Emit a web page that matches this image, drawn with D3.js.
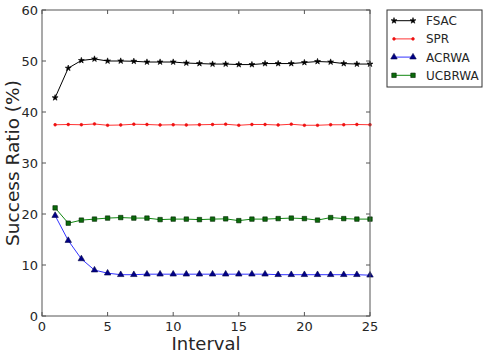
<!DOCTYPE html>
<html><head><meta charset="utf-8">
<script src="https://cdn.jsdelivr.net/npm/d3@7"></script>
<style>body{margin:0;background:#fff}svg{display:block}</style>
</head><body><svg id="c" width="490" height="357"></svg>
<script>
const intervals = d3.range(1, 26);
const fsac   = [42.8,48.6,50.1,50.4,50.0,50.0,49.95,49.8,49.8,49.8,49.6,49.5,49.4,49.4,49.3,49.3,49.5,49.5,49.5,49.7,49.9,49.8,49.5,49.4,49.4];
const spr    = [37.5,37.55,37.5,37.65,37.4,37.45,37.6,37.55,37.45,37.5,37.45,37.5,37.55,37.6,37.4,37.55,37.55,37.45,37.6,37.4,37.4,37.5,37.5,37.55,37.5];
const acrwa  = [19.7,14.8,11.2,9.0,8.4,8.1,8.1,8.2,8.2,8.2,8.2,8.2,8.2,8.2,8.2,8.2,8.2,8.1,8.1,8.1,8.1,8.1,8.1,8.1,8.0];
const ucbrwa = [21.2,18.2,18.8,19.0,19.2,19.3,19.2,19.2,18.9,19.0,19.0,18.9,19.0,19.05,18.7,19.0,19.0,19.1,19.2,19.1,18.8,19.3,19.1,19.0,19.0];
const xTicks = [0,5,10,15,20,25];
const yTicks = [0,10,20,30,40,50,60];
const seriesNames = ["FSAC","SPR","ACRWA","UCBRWA"];

const svg = d3.select("#c");
const L=42, T=10, R=370, B=316;
const x = d3.scaleLinear().domain([0,25]).range([L,R]);
const y = d3.scaleLinear().domain([0,60]).range([B,T]);
const font = "DejaVu Sans, sans-serif";
const txt = "#262626", frame="#555";

const g = svg.append("g");
xTicks.forEach(t=>{
  g.append("line").attr("x1",x(t)).attr("x2",x(t)).attr("y1",B).attr("y2",B-4).attr("stroke",frame);
  g.append("line").attr("x1",x(t)).attr("x2",x(t)).attr("y1",T).attr("y2",T+4).attr("stroke",frame);
  g.append("text").attr("x",x(t)).attr("y",B+15).attr("text-anchor","middle")
    .attr("font-family",font).attr("font-size",13).attr("fill",txt).text(t);
});
yTicks.forEach(t=>{
  g.append("line").attr("x1",L).attr("x2",L+4).attr("y1",y(t)).attr("y2",y(t)).attr("stroke",frame);
  g.append("line").attr("x1",R).attr("x2",R-4).attr("y1",y(t)).attr("y2",y(t)).attr("stroke",frame);
  g.append("text").attr("x",L-4).attr("y",y(t)+4.5).attr("text-anchor","end")
    .attr("font-family",font).attr("font-size",13).attr("fill",txt).text(t);
});

svg.append("text").attr("x",(L+R)/2).attr("y",350).attr("text-anchor","middle")
  .attr("font-family",font).attr("font-size",18).attr("fill",txt).text("Interval");
svg.append("text").attr("transform",`translate(19,${(T+B)/2}) rotate(-90)`).attr("text-anchor","middle")
  .attr("font-family",font).attr("font-size",18.5).attr("fill",txt).text("Success Ratio (%)");

const styles = [
  {data:fsac,   line:"#000",    fill:"#000",    stroke:"#000", sym:d3.symbolStar,     size:11},
  {data:spr,    line:"#ff3333", fill:"#ee1111", stroke:"#ee1111", sym:d3.symbolCircle, size:6},
  {data:acrwa,  line:"#3333ff", fill:"#000088", stroke:"#000044", sym:d3.symbolTriangle, size:18},
  {data:ucbrwa, line:"#118811", fill:"#0a6a0a", stroke:"#002200", sym:d3.symbolSquare,   size:20}
];
const lineGen = d3.line().x((d,i)=>x(intervals[i])).y(d=>y(d));
const plot = svg.append("g");
styles.forEach(s=>{
  plot.append("path").attr("d",lineGen(s.data)).attr("fill","none").attr("stroke",s.line).attr("stroke-width",1);
  plot.selectAll(null).data(s.data).enter().append("path")
    .attr("transform",(d,i)=>`translate(${x(intervals[i])},${y(d)})`)
    .attr("d",d3.symbol().type(s.sym).size(s.size))
    .attr("fill",s.fill).attr("stroke",s.stroke).attr("stroke-width",0.6);
});

svg.append("rect").attr("x",L).attr("y",T).attr("width",R-L).attr("height",B-T)
  .attr("fill","none").attr("stroke",frame).attr("stroke-width",1);

const lg = svg.append("g");
lg.append("rect").attr("x",387).attr("y",10).attr("width",95).attr("height",77)
  .attr("fill","#fff").attr("stroke","#333").attr("stroke-width",1);
seriesNames.forEach((n,i)=>{
  const s = styles[i], yy = 20.7 + i*18.2;
  lg.append("line").attr("x1",394).attr("x2",413).attr("y1",yy).attr("y2",yy).attr("stroke",s.line);
  [394,413].forEach(xx=>lg.append("path").attr("transform",`translate(${xx},${yy})`)
    .attr("d",d3.symbol().type(s.sym).size(s.size)).attr("fill",s.fill).attr("stroke",s.stroke).attr("stroke-width",0.6));
  lg.append("text").attr("x",426).attr("y",yy+4.5).attr("font-family",font).attr("font-size",12)
    .attr("fill",txt).text(n);
});
</script></body></html>
